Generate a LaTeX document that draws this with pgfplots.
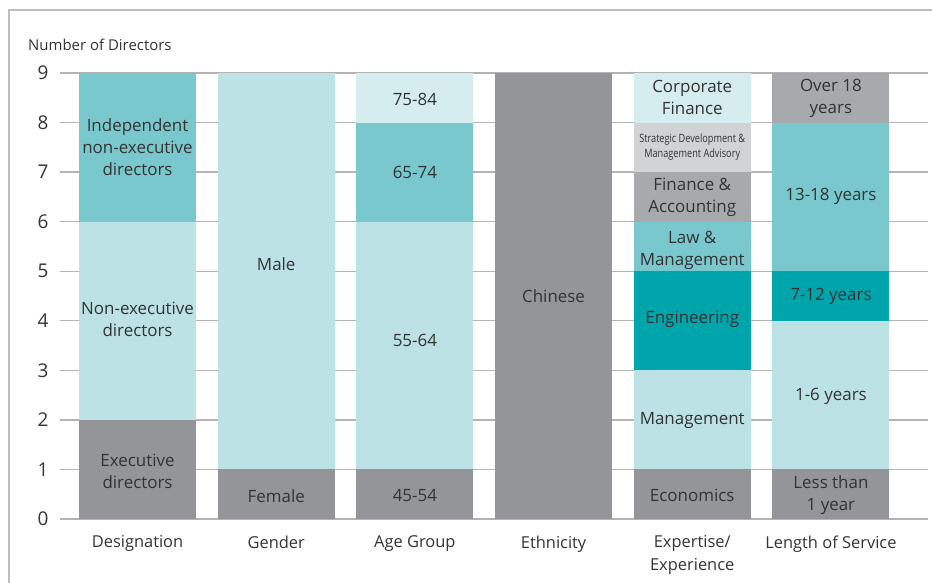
\documentclass[border=0pt]{standalone}
\usepackage{pgfplots}
\pgfplotsset{compat=1.18}
\usepackage{pgfplotstable}
\usepackage{fontspec}
\setmainfont{Open Sans}
\definecolor{cgray}{HTML}{939598}
\definecolor{clteal}{HTML}{BCE2E5}
\definecolor{cmteal}{HTML}{78C8CE}
\definecolor{cdteal}{HTML}{00A4AB}
\definecolor{cvlight}{HTML}{D6EDEF}
\definecolor{clgray}{HTML}{D1D3D4}
\definecolor{cmgray}{HTML}{A7A9AC}
\definecolor{cgrid}{HTML}{B3B3B3}
\definecolor{ctext}{HTML}{333333}
\definecolor{cframe}{HTML}{BDBDBD}
\tikzset{lab/.style={align=center, text=ctext, font=\fontsize{17}{22}\selectfont, inner sep=0}}
\pgfplotsset{geom/.style={at={(60bp,64bp)}, anchor=south west,
  scale only axis, width=868bp, height=446bp,
  xmin=-0.559, xmax=5.70, ymin=0, ymax=9, clip=false}}
% one column per segment; rows = categories 0..5
\pgfplotstableread{
x  dA dB dC gA gB aA aB aC aD eA xA xB xC xD xE xF xG lA lB lC lD lE
0  2  4  3  0  0  0  0  0  0  0  0  0  0  0  0  0  0  0  0  0  0  0
1  0  0  0  1  8  0  0  0  0  0  0  0  0  0  0  0  0  0  0  0  0  0
2  0  0  0  0  0  1  5  2  1  0  0  0  0  0  0  0  0  0  0  0  0  0
3  0  0  0  0  0  0  0  0  0  9  0  0  0  0  0  0  0  0  0  0  0  0
4  0  0  0  0  0  0  0  0  0  0  1  2  2  1  1  1  1  0  0  0  0  0
5  0  0  0  0  0  0  0  0  0  0  0  0  0  0  0  0  0  1  3  1  3  1
}\data
\begin{document}
\begin{tikzpicture}
\path[use as bounding box] (0,0) rectangle (932bp,583bp);
\draw[cframe, line width=1.2bp] (9bp,0) -- (9bp,573bp) -- (932bp,573bp);
\node[anchor=west, text=ctext, font=\fontsize{15}{17}\selectfont, inner sep=0] at (28bp,538bp) {Number of Directors};
\begin{axis}[
  geom,
  axis line style={draw=none},
  ybar stacked, bar width=117bp,
  ytick={0,...,9},
  ymajorgrids, grid style={cgrid, line width=1.3bp},
  xtick={0,...,5},
  xticklabels={Designation, Gender, Age Group, Ethnicity, {Expertise/\\Experience}, Length of Service},
  xticklabel style={align=center, anchor=north, yshift=-13bp, text=ctext, font=\fontsize{16.5}{23}\selectfont},
  yticklabel style={anchor=east, xshift=-8bp, text=ctext, font=\fontsize{19}{20}\selectfont},
  /pgf/number format/assume math mode=true,
  major tick length=0pt,
  every axis plot/.append style={draw=none},
]
\addplot[fill=cgray]   table[x=x,y=dA]{\data};
\addplot[fill=clteal]  table[x=x,y=dB]{\data};
\addplot[fill=cmteal]  table[x=x,y=dC]{\data};
\addplot[fill=cgray]   table[x=x,y=gA]{\data};
\addplot[fill=clteal]  table[x=x,y=gB]{\data};
\addplot[fill=cgray]   table[x=x,y=aA]{\data};
\addplot[fill=clteal]  table[x=x,y=aB]{\data};
\addplot[fill=cmteal]  table[x=x,y=aC]{\data};
\addplot[fill=cvlight] table[x=x,y=aD]{\data};
\addplot[fill=cgray]   table[x=x,y=eA]{\data};
\addplot[fill=cgray]   table[x=x,y=xA]{\data};
\addplot[fill=clteal]  table[x=x,y=xB]{\data};
\addplot[fill=cdteal]  table[x=x,y=xC]{\data};
\addplot[fill=cmteal]  table[x=x,y=xD]{\data};
\addplot[fill=cmgray]  table[x=x,y=xE]{\data};
\addplot[fill=clgray]  table[x=x,y=xF]{\data};
\addplot[fill=cvlight] table[x=x,y=xG]{\data};
\addplot[fill=cgray]   table[x=x,y=lA]{\data};
\addplot[fill=clteal]  table[x=x,y=lB]{\data};
\addplot[fill=cdteal]  table[x=x,y=lC]{\data};
\addplot[fill=cmteal]  table[x=x,y=lD]{\data};
\addplot[fill=cmgray]  table[x=x,y=lE]{\data};
\end{axis}
\begin{axis}[geom, hide axis]
\node[lab] at (axis cs:0,0.97) {Executive\\directors};
\node[lab] at (axis cs:0,4.03) {Non-executive\\directors};
\node[lab] at (axis cs:0,7.5) {Independent\\non-executive\\directors};
\node[lab] at (axis cs:1,0.47) {Female};
\node[lab] at (axis cs:1,5.15) {Male};
\node[lab] at (axis cs:2,0.47) {45-54};
\node[lab] at (axis cs:2,3.6) {55-64};
\node[lab] at (axis cs:2,7.0) {65-74};
\node[lab] at (axis cs:2,8.47) {75-84};
\node[lab] at (axis cs:3,4.5) {Chinese};
\node[lab] at (axis cs:4,0.47) {Economics};
\node[lab] at (axis cs:4,1.98) {Management};
\node[lab] at (axis cs:4,4.03) {Engineering};
\node[lab] at (axis cs:4,5.42) {Law \&\\Management};
\node[lab] at (axis cs:4,6.49) {Finance \&\\Accounting};
\node[align=center, text=ctext, inner sep=0, font=\fontsize{11.5}{15}\selectfont] at (axis cs:4,7.5) {\scalebox{0.8}[1]{Strategic Development \&}\\\scalebox{0.8}[1]{Management Advisory}};
\node[lab] at (axis cs:4,8.5) {Corporate\\Finance};
\node[lab] at (axis cs:5,0.48) {Less than\\1 year};
\node[lab] at (axis cs:5,2.48) {1-6 years};
\node[lab] at (axis cs:5,4.5) {7-12 years};
\node[lab] at (axis cs:5,6.5) {13-18 years};
\node[lab] at (axis cs:5,8.49) {Over 18\\years};
\end{axis}
\end{tikzpicture}
\end{document}
